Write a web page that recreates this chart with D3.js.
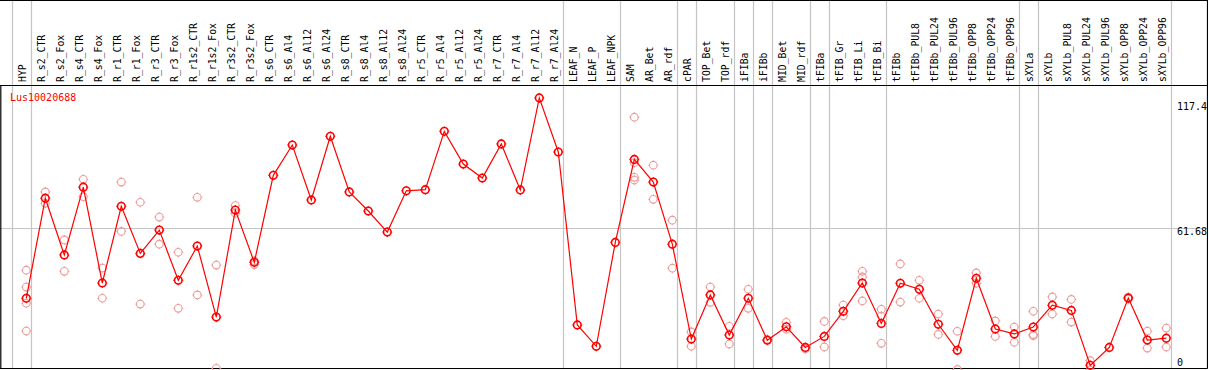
<!DOCTYPE html>
<html>
<head>
<meta charset="utf-8">
<script src="https://cdn.jsdelivr.net/npm/d3@7"></script>
<style>
  body { margin: 0; background: #fff; }
  text { font-family: "DejaVu Sans Mono", monospace; }
</style>
</head>
<body>
<svg id="chart"></svg>
<script>
const geneId = "Lus10020688";

const categories = [
  "HYP",
  "R_s2_CTR", "R_s2_Fox", "R_s4_CTR", "R_s4_Fox", "R_r1_CTR", "R_r1_Fox",
  "R_r3_CTR", "R_r3_Fox", "R_r1s2_CTR", "R_r1s2_Fox", "R_r3s2_CTR", "R_r3s2_Fox",
  "R_s6_CTR", "R_s6_Al4", "R_s6_Al12", "R_s6_Al24",
  "R_s8_CTR", "R_s8_Al4", "R_s8_Al12", "R_s8_Al24",
  "R_r5_CTR", "R_r5_Al4", "R_r5_Al12", "R_r5_Al24",
  "R_r7_CTR", "R_r7_Al4", "R_r7_Al12", "R_r7_Al24",
  "LEAF_N", "LEAF_P", "LEAF_NPK",
  "SAM", "AR_Bet", "AR_rdf",
  "cPAR", "TOP_Bet", "TOP_rdf",
  "iFIBa", "iFIBb", "MID_Bet", "MID_rdf",
  "tFIBa", "tFIB_Gr", "tFIB_Li", "tFIB_Bi",
  "tFIBb", "tFIBb_PUL8", "tFIBb_PUL24", "tFIBb_PUL96", "tFIBb_OPP8", "tFIBb_OPP24", "tFIBb_OPP96",
  "sXYLa",
  "sXYLb", "sXYLb_PUL8", "sXYLb_PUL24", "sXYLb_PUL96", "sXYLb_OPP8", "sXYLb_OPP24", "sXYLb_OPP96"
];

// valeur moyenne (ligne rouge)
const lineValues = [
  30.5, 75.1, 49.8, 80.0, 37.3, 71.5, 50.5, 60.9, 38.5, 53.8, 22.1, 69.8, 46.5,
  85.3, 98.8, 74.3, 102.7, 77.9, 69.4, 60.0, 78.4, 78.9, 104.9, 90.3, 84.1,
  99.3, 78.8, 119.8, 95.7, 18.6, 9.1, 55.4, 92.4, 82.3, 54.6, 12.3, 32.0, 14.1,
  30.5, 11.8, 17.8, 8.6, 13.5, 24.7, 37.3, 19.3, 37.2, 34.5, 18.9, 7.3, 39.4,
  16.8, 14.6, 17.7, 27.4, 25.1, 0.6, 8.6, 30.6, 11.9, 12.7
];

// réplicats (points pâles)
const replicates = [
  [43.0, 35.5, 28.3, 15.9], [77.9, 72.8], [56.5, 42.5], [83.5, 75.8], [44.0, 30.5],
  [82.3, 60.3], [73.3, 27.9], [66.7, 54.6], [51.0, 26.0], [75.5, 32.0], [45.3, -0.7],
  [71.8, 68.4], [47.2, 45.5],
  [], [], [], [], [], [], [], [], [], [], [], [], [], [], [], [],
  [], [], [],
  [111.2, 90.9, 84.4, 83.2], [89.8, 74.6], [65.3, 43.9],
  [15.5, 9.1], [35.5, 28.7], [18.0, 10.1],
  [34.5, 26.0], [12.2], [19.8, 16.7], [7.9],
  [20.2, 8.8], [27.5, 22.7], [42.5, 40.0, 29.3], [25.6, 22.6, 10.4],
  [45.8, 28.8], [38.5, 30.5], [23.5, 14.4], [15.8, -1.2], [41.8, 37.2], [20.4, 13.5], [17.7, 10.9],
  [24.7, 14.3, 13.8],
  [31.1, 23.5], [30.0, 19.9], [2.7, -1.5], [], [31.0, 30.2], [15.9, 8.3], [17.2, 8.8]
];

// séparateurs de groupes
const groupStarts = ["HYP", "R_s2_CTR", "LEAF_N", "SAM", "cPAR", "TOP_Bet", "iFIBa",
  "iFIBb", "MID_Bet", "tFIBa", "tFIB_Gr", "tFIBb", "sXYLa", "sXYLb"];

const yTickValues = [0, 61.68, 117.4];
const yGridValues = [61.68];

const width = 1209;
const height = 370;
const headerY = 85.5;
const bottomY = 368.5;
const rightX = 1207.5;

const svg = d3.select("#chart")
  .attr("width", width)
  .attr("height", height)
  .style("display", "block");

svg.append("rect").attr("width", width).attr("height", height).attr("fill", "#fff");

const xScale = d3.scaleBand()
  .domain(categories)
  .range([11.5, 11.5 + 19 * categories.length])
  .padding(0);

const pointX = d => xScale(d) + 14.8;

const yScale = d3.scaleLinear()
  .domain([0, 117.4])
  .range([366.7, 103.3]);

// lignes verticales
const sepX = groupStarts.map(c => Math.round(xScale(c)) + 0.5)
  .concat([Math.round(xScale.range()[1]) + 0.5]);

svg.append("g")
  .selectAll("line")
  .data(sepX)
  .join("line")
  .attr("x1", d => d).attr("x2", d => d)
  .attr("y1", 0).attr("y2", bottomY)
  .attr("stroke", "#c4c4c4")
  .attr("stroke-width", 1.2);

// grille horizontale
svg.append("g")
  .selectAll("line")
  .data(yGridValues)
  .join("line")
  .attr("x1", 0).attr("x2", rightX)
  .attr("y1", d => Math.round(yScale(d)) + 0.5)
  .attr("y2", d => Math.round(yScale(d)) + 0.5)
  .attr("stroke", "#c4c4c4")
  .attr("stroke-width", 1.2);

// cadre
const frame = svg.append("g").attr("stroke", "#000").attr("stroke-width", 1.2);
frame.append("line").attr("x1", 0).attr("x2", rightX).attr("y1", 0.5).attr("y2", 0.5);
frame.append("line").attr("x1", 0).attr("x2", rightX).attr("y1", headerY).attr("y2", headerY);
frame.append("line").attr("x1", 0).attr("x2", rightX).attr("y1", bottomY).attr("y2", bottomY);
frame.append("line").attr("x1", 0.8).attr("x2", 0.8).attr("y1", headerY).attr("y2", bottomY);
frame.append("line").attr("x1", rightX).attr("x2", rightX).attr("y1", 0).attr("y2", bottomY);

// étiquettes de catégories
svg.append("g")
  .selectAll("text")
  .data(categories)
  .join("text")
  .attr("transform", d => `translate(${pointX(d)},82) rotate(-90)`)
  .attr("font-size", "9.8px")
  .attr("fill", "#000")
  .text(d => d);

// étiquettes de l'axe y (à droite)
svg.append("g")
  .selectAll("text")
  .data(yTickValues)
  .join("text")
  .attr("x", 1177)
  .attr("y", d => Math.min(yScale(d) + 7, 365.5))
  .attr("font-size", "10px")
  .attr("fill", "#000")
  .text(d => d);

// masque pour le texte qui dépasse à droite
svg.append("rect").attr("x", rightX + 0.6).attr("y", 0).attr("width", 3).attr("height", height).attr("fill", "#fff");

svg.append("text")
  .attr("x", 10)
  .attr("y", 101)
  .attr("font-size", "10px")
  .attr("fill", "#f00")
  .text(geneId);

function drawMarkers(sel, color, sw) {
  const g = sel.append("g")
    .attr("transform", d => `translate(${d.x},${d.y})`)
    .attr("stroke", color)
    .attr("fill", "none")
    .attr("stroke-width", sw);
  g.append("circle").attr("r", 3.8);
  g.append("path")
    .attr("stroke-width", 1)
    .attr("d", "M0,-3.8V-5M0,3.8V5M-3.8,0H-5M3.8,0H5");
}

// points des réplicats
const repData = [];
categories.forEach((c, i) => {
  replicates[i].forEach(v => repData.push({ x: pointX(c), y: yScale(v) }));
});

svg.append("g")
  .selectAll("g")
  .data(repData)
  .join(enter => {
    const s = enter.append("g");
    drawMarkers(s, "#ef9a9a", 1.1);
    return s;
  });

// ligne
const mainData = categories.map((c, i) => ({ x: pointX(c), y: yScale(lineValues[i]) }));

svg.append("path")
  .datum(mainData)
  .attr("fill", "none")
  .attr("stroke", "#f00")
  .attr("stroke-width", 1.2)
  .attr("d", d3.line().x(d => d.x).y(d => d.y));

svg.append("g")
  .selectAll("g")
  .data(mainData)
  .join(enter => {
    const s = enter.append("g");
    drawMarkers(s, "#f00", 1.6);
    return s;
  });
</script>
</body>
</html>
